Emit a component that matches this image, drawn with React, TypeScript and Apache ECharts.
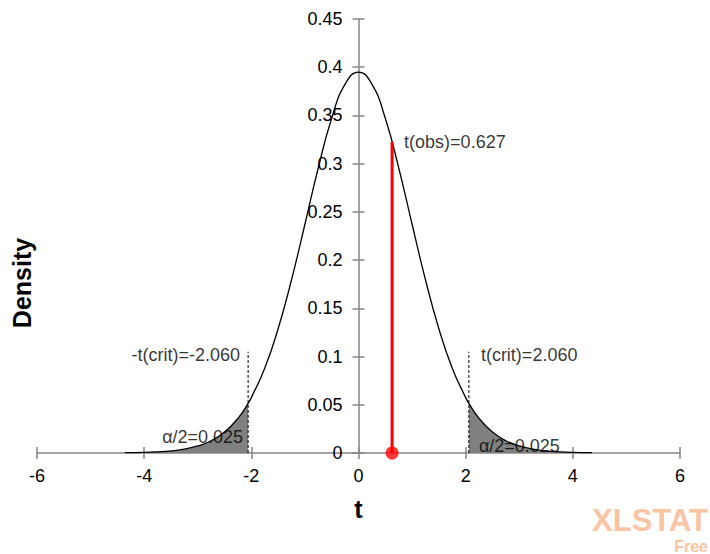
import React, { useEffect, useRef } from 'react';
import * as echarts from 'echarts';

// Student t density (df = 25)
const tValues = [-4.36, -4, -3.75, -3.5, -3.25, -3, -2.75, -2.5, -2.25, -2.06, -2, -1.75, -1.5, -1.25, -1, -0.75, -0.5, -0.25, 0, 0.25, 0.5, 0.75, 1, 1.25, 1.5, 1.75, 2, 2.06, 2.25, 2.5, 2.75, 3, 3.25, 3.5, 3.75, 4, 4.36];
const density = [0.0003, 0.0006, 0.0012, 0.0022, 0.004, 0.0073, 0.0127, 0.0217, 0.0359, 0.0514, 0.0574, 0.0879, 0.1288, 0.1796, 0.2372, 0.2958, 0.3471, 0.3824, 0.395, 0.3824, 0.3471, 0.2958, 0.2372, 0.1796, 0.1288, 0.0879, 0.0574, 0.0514, 0.0359, 0.0217, 0.0127, 0.0073, 0.004, 0.0022, 0.0012, 0.0006, 0.0003];

const tCrit = 2.06;
const tObs = 0.627;
const densityAtObs = 0.3225;
const critLineTop = 0.105;
const alphaHalf = 0.025;
const alphaLabelLeftY = 0.0166;
const alphaLabelRightY = 0.0073;

const xMin = -6, xMax = 6, xInterval = 2;
const yMin = 0, yMax = 0.45, yInterval = 0.05;

const FONT = '"Liberation Sans", Arial, sans-serif';
const AXIS_COLOR = '#868686';
const WATERMARK = 'rgb(250,196,162)';

const GRID_LEFT = 37, GRID_RIGHT = 30, CHART_W = 710;

export default function App() {
  const ref = useRef<HTMLDivElement>(null);
  useEffect(() => {
    if (!ref.current) return;
    const chart = echarts.init(ref.current, null, { renderer: 'svg' });
    const curve = tValues.map((t, i) => [t, density[i]]);
    const leftTail = curve.filter(p => p[0] <= -tCrit);
    const rightTail = curve.filter(p => p[0] >= tCrit);
    const txt = { fontFamily: FONT, fontSize: 18, color: '#000' };
    // put the y axis at x = 0 of the value range
    const plotW = CHART_W - GRID_LEFT - GRID_RIGHT;
    const zeroFrac = (0 - xMin) / (xMax - xMin);
    const yOffset = -plotW * zeroFrac;
    const axisCommonX = {
      type: 'value', min: xMin, max: xMax, interval: xInterval,
      splitLine: { show: false },
    };
    const axisCommonY = {
      type: 'value', min: yMin, max: yMax, interval: yInterval,
      splitLine: { show: false },
    };
    const lineStyle = { color: AXIS_COLOR, width: 1.5 };
    chart.setOption({
      animation: false,
      grid: { left: GRID_LEFT, right: GRID_RIGHT, top: 19, bottom: 101, containLabel: false, outerBoundsMode: 'none' },
      xAxis: [
        {
          ...axisCommonX, position: 'bottom',
          axisLine: { onZero: false, lineStyle },
          axisTick: { show: true, inside: false, length: 6, lineStyle },
          axisLabel: { ...txt, margin: 14 },
          name: 't', nameLocation: 'middle', nameGap: 43,
          nameTextStyle: { fontFamily: FONT, fontSize: 25, fontWeight: 'bold', color: '#000' },
        },
        {
          ...axisCommonX, position: 'bottom',
          axisLine: { onZero: false, show: false },
          axisTick: { show: true, inside: true, length: 6, lineStyle },
          axisLabel: { show: false },
        },
      ],
      yAxis: [
        {
          ...axisCommonY, position: 'left', offset: yOffset,
          axisLine: { onZero: false, lineStyle },
          axisTick: { show: true, inside: false, length: 6, lineStyle },
          axisLabel: { ...txt, margin: 16 },
        },
        {
          ...axisCommonY, position: 'left', offset: yOffset,
          axisLine: { onZero: false, show: false },
          axisTick: { show: true, inside: true, length: 6, lineStyle },
          axisLabel: { show: false },
        },
      ],
      graphic: [
        {
          type: 'text', x: 22, y: 283, rotation: Math.PI / 2,
          style: { text: 'Density', font: `bold 25px ${FONT}`, fill: '#000', align: 'center', verticalAlign: 'middle' },
        },
        {
          type: 'text', right: 2, top: 505,
          style: { text: 'XLSTAT', font: `bold 31px ${FONT}`, fill: WATERMARK },
        },
        {
          type: 'text', right: 2, top: 538,
          style: { text: 'Free', font: `bold 16px ${FONT}`, fill: WATERMARK },
        },
      ],
      series: [
        {
          type: 'line', data: leftTail, smooth: true, symbol: 'none',
          lineStyle: { width: 0 }, areaStyle: { color: '#808080', opacity: 1 }, z: 2,
        },
        {
          type: 'line', data: rightTail, smooth: true, symbol: 'none',
          lineStyle: { width: 0 }, areaStyle: { color: '#808080', opacity: 1 }, z: 2,
        },
        {
          type: 'line', data: curve, smooth: true, symbol: 'none',
          lineStyle: { color: '#000', width: 1.3 }, z: 3,
        },
        {
          type: 'line', data: [[-tCrit, 0], [-tCrit, critLineTop]], symbol: 'none',
          lineStyle: { color: '#000', width: 1, type: [3, 2] }, z: 4,
        },
        {
          type: 'line', data: [[tCrit, 0], [tCrit, critLineTop]], symbol: 'none',
          lineStyle: { color: '#000', width: 1, type: [3, 2] }, z: 4,
        },
        {
          type: 'line', data: [[tObs, 0], [tObs, densityAtObs]], symbol: 'none',
          lineStyle: { color: '#ff0000', width: 3 }, z: 5,
        },
        {
          type: 'scatter', data: [[tObs, 0]], symbolSize: 13,
          itemStyle: { color: '#ff0000' }, z: 6,
        },
        {
          type: 'scatter', symbolSize: 0, silent: true, z: 7,
          data: [
            { value: [tObs, densityAtObs], label: { show: true, position: 'right', distance: 12, ...txt, formatter: `t(obs)=${tObs.toFixed(3)}` } },
            { value: [-tCrit, critLineTop], label: { show: true, position: 'left', distance: 8, offset: [0, 3], ...txt, formatter: `-t(crit)=${(-tCrit).toFixed(3)}` } },
            { value: [tCrit, critLineTop], label: { show: true, position: 'right', distance: 12, offset: [0, 3], ...txt, formatter: `t(crit)=${tCrit.toFixed(3)}` } },
            { value: [-tCrit, alphaLabelLeftY], label: { show: true, position: 'left', distance: 5, ...txt, formatter: `α/2=${alphaHalf.toFixed(3)}` } },
            { value: [tCrit, alphaLabelRightY], label: { show: true, position: 'right', distance: 10, ...txt, formatter: `α/2=${alphaHalf.toFixed(3)}` } },
          ],
        },
      ],
    });
    return () => chart.dispose();
  }, []);
  return <div ref={ref} style={{ position: 'fixed', left: 0, top: 0, width: CHART_W, height: 554, background: '#fff' }} />;
}
